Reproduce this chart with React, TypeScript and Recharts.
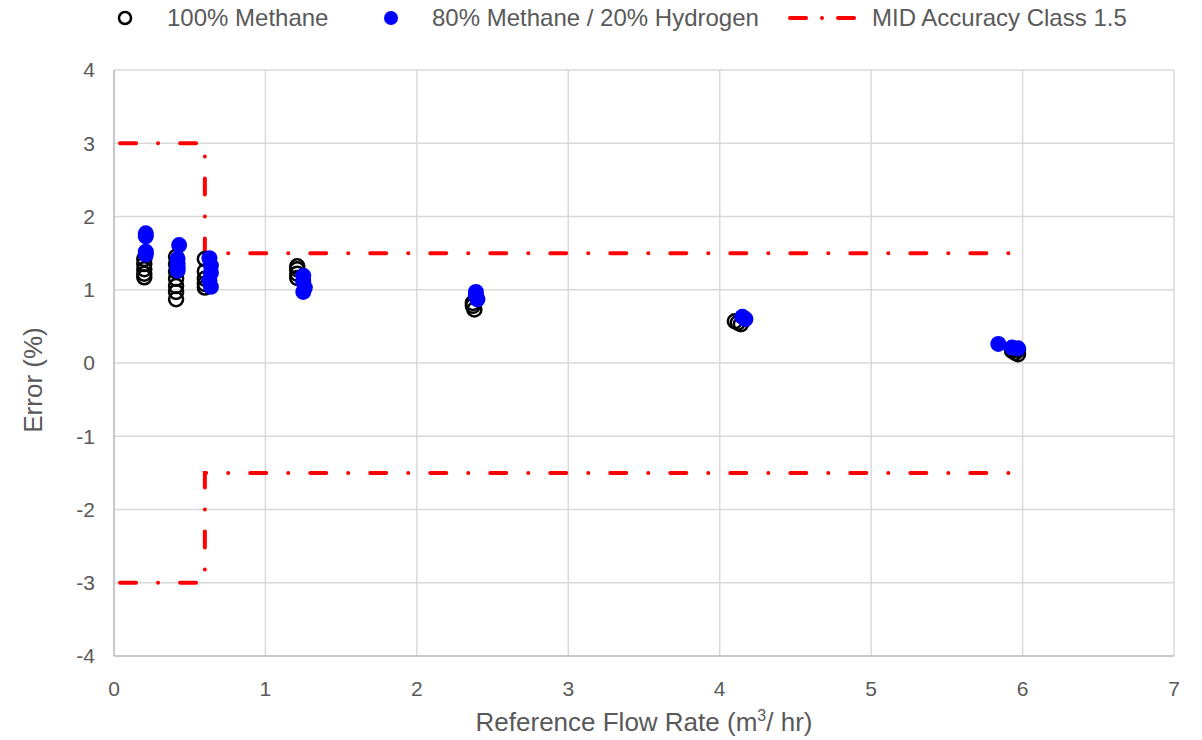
import React from 'react';
import { ScatterChart, Scatter, XAxis, YAxis, CartesianGrid } from 'recharts';

// 100% methane test points (flow m3/hr, error %)
const methanePoints = [
  { x: 0.2, y: 1.42 }, { x: 0.2, y: 1.35 }, { x: 0.2, y: 1.28 }, { x: 0.2, y: 1.22 }, { x: 0.2, y: 1.17 },
  { x: 0.41, y: 1.45 }, { x: 0.41, y: 1.35 }, { x: 0.41, y: 1.25 }, { x: 0.41, y: 1.15 },
  { x: 0.41, y: 1.05 }, { x: 0.41, y: 0.97 }, { x: 0.41, y: 0.87 },
  { x: 0.6, y: 1.42 }, { x: 0.6, y: 1.25 }, { x: 0.6, y: 1.15 }, { x: 0.6, y: 1.08 }, { x: 0.6, y: 1.03 },
  { x: 1.21, y: 1.32 }, { x: 1.21, y: 1.28 }, { x: 1.21, y: 1.22 }, { x: 1.21, y: 1.16 },
  { x: 2.37, y: 0.82 }, { x: 2.37, y: 0.78 }, { x: 2.38, y: 0.73 },
  { x: 4.1, y: 0.57 }, { x: 4.12, y: 0.55 }, { x: 4.14, y: 0.53 },
  { x: 5.93, y: 0.17 }, { x: 5.95, y: 0.14 }, { x: 5.97, y: 0.12 }, { x: 5.97, y: 0.18 },
];

// 80% methane / 20% hydrogen test points
const blendPoints = [
  { x: 0.21, y: 1.77 }, { x: 0.21, y: 1.73 }, { x: 0.21, y: 1.52 }, { x: 0.21, y: 1.48 },
  { x: 0.43, y: 1.61 }, { x: 0.42, y: 1.42 }, { x: 0.42, y: 1.36 }, { x: 0.42, y: 1.3 }, { x: 0.42, y: 1.26 },
  { x: 0.63, y: 1.43 }, { x: 0.64, y: 1.33 }, { x: 0.64, y: 1.23 }, { x: 0.63, y: 1.13 }, { x: 0.64, y: 1.04 },
  { x: 1.25, y: 1.19 }, { x: 1.25, y: 1.11 }, { x: 1.26, y: 1.03 }, { x: 1.25, y: 0.97 },
  { x: 2.39, y: 0.97 }, { x: 2.39, y: 0.92 }, { x: 2.4, y: 0.87 },
  { x: 4.15, y: 0.63 }, { x: 4.17, y: 0.6 },
  { x: 5.84, y: 0.26 }, { x: 5.93, y: 0.21 }, { x: 5.97, y: 0.2 },
];

// MID accuracy class 1.5 limits
const midUpper = [
  { x: 0.04, y: 3 }, { x: 0.6, y: 3 }, { x: 0.6, y: 1.5 }, { x: 6, y: 1.5 },
];
const midLower = [
  { x: 0.04, y: -3 }, { x: 0.6, y: -3 }, { x: 0.6, y: -1.5 }, { x: 6, y: -1.5 },
];

const xTicks = [0, 1, 2, 3, 4, 5, 6, 7];
const yTicks = [-4, -3, -2, -1, 0, 1, 2, 3, 4];

const FONT = '"Liberation Sans", Arial, sans-serif';
const GREY = '#595959';
const RED = '#ff0000';
const BLUE = '#0000ff';

const redLine = {
  stroke: RED,
  strokeWidth: 4,
  strokeDasharray: '16 22 0.01 22',
  strokeLinecap: 'round' as const,
};

const HollowDot = (props: any) => (
  <circle cx={props.cx} cy={props.cy} r={7} fill="none" stroke="#000" strokeWidth={2.5} />
);
const BlueDot = (props: any) => (
  <circle cx={props.cx} cy={props.cy} r={8} fill={BLUE} />
);

const XTitle = (props: any) => {
  const { viewBox } = props;
  const cx = viewBox.x + viewBox.width / 2;
  return (
    <text x={cx} y={731} textAnchor="middle" fill={GREY} fontSize={26} fontFamily={FONT}>
      Reference Flow Rate (m
      <tspan fontSize={16} dy={-10}>3</tspan>
      <tspan dy={10}>/ hr)</tspan>
    </text>
  );
};

const YTitle = () => (
  <text
    x={0}
    y={0}
    transform="translate(42, 380) rotate(-90)"
    textAnchor="middle"
    fill={GREY}
    fontSize={26}
    fontFamily={FONT}
  >
    Error (%)
  </text>
);

const legendText: React.CSSProperties = {
  position: 'absolute',
  top: 4,
  fontSize: 24,
  color: GREY,
  fontFamily: FONT,
  whiteSpace: 'nowrap',
};

const App = () => {
  return (
    <div style={{ position: 'absolute', left: 0, top: 0, width: 1202, height: 740, background: '#fff' }}>
      <ScatterChart width={1202} height={740} margin={{ top: 70, right: 28, left: 0, bottom: 0 }}>
        <CartesianGrid stroke="#d9d9d9" strokeWidth={1.5} />
        <XAxis
          type="number"
          dataKey="x"
          domain={[0, 7]}
          ticks={xTicks}
          height={84}
          stroke="#bfbfbf"
          strokeWidth={1.5}
          tickLine={false}
          tickSize={0}
          tickMargin={25}
          tick={{ fill: GREY, fontSize: 21, fontFamily: FONT }}
          label={<XTitle />}
          interval={0}
        />
        <YAxis
          type="number"
          dataKey="y"
          domain={[-4, 4]}
          ticks={yTicks}
          width={114}
          stroke="#bfbfbf"
          strokeWidth={1.5}
          tickLine={false}
          tickSize={0}
          tickMargin={19}
          tick={{ fill: GREY, fontSize: 21, fontFamily: FONT }}
          label={<YTitle />}
          interval={0}
        />
        <Scatter data={midUpper} line={redLine} lineType="joint" shape={() => null} isAnimationActive={false} />
        <Scatter data={midLower} line={redLine} lineType="joint" shape={() => null} isAnimationActive={false} />
        <Scatter data={methanePoints} shape={<HollowDot />} isAnimationActive={false} />
        <Scatter data={blendPoints} shape={<BlueDot />} isAnimationActive={false} />
      </ScatterChart>

      {/* legend */}
      <svg width={1202} height={40} style={{ position: 'absolute', left: 0, top: 0 }}>
        <circle cx={125} cy={18} r={6} fill="none" stroke="#000" strokeWidth={2.5} />
        <circle cx={391} cy={18} r={7} fill={BLUE} />
        <line x1={790} y1={18} x2={859} y2={18} {...redLine} strokeDasharray="16 16 0.01 16" />
      </svg>
      <span style={{ ...legendText, left: 167 }}>100% Methane</span>
      <span style={{ ...legendText, left: 432 }}>80% Methane / 20% Hydrogen</span>
      <span style={{ ...legendText, left: 872 }}>MID Accuracy Class 1.5</span>
    </div>
  );
};

export default App;
